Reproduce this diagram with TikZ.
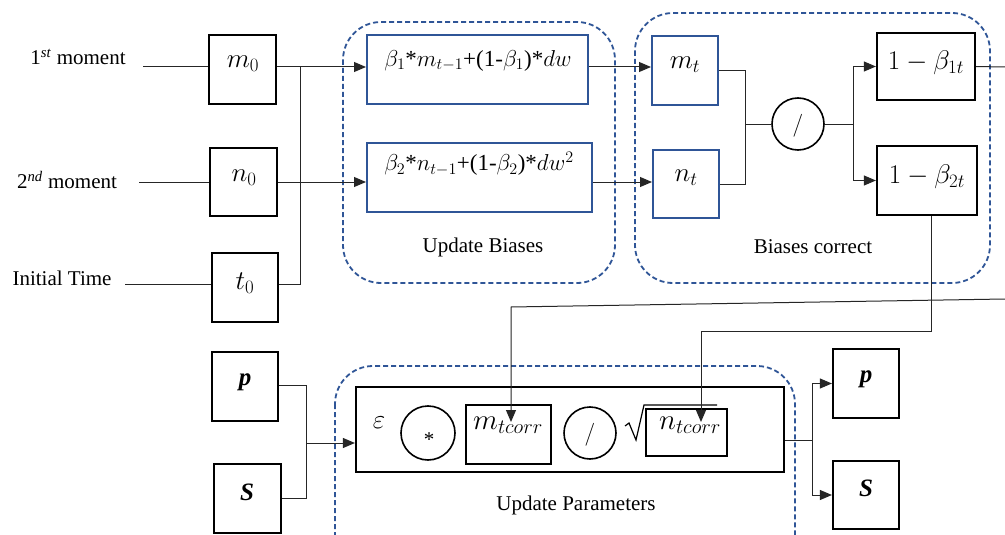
\RequirePackage{fix-cm}
\documentclass[tikz,border=0pt]{standalone}
\usepackage{fontspec}
\setmainfont{Liberation Serif}
\usetikzlibrary{arrows.meta}
\definecolor{myblue}{RGB}{47,85,151}
\tikzset{
  thin line/.style={line width=1pt, draw=black!85},
  arr/.style={thin line, -{Triangle[length=12pt,width=10pt]}},
  bbox/.style={draw=black, line width=2.2pt, inner sep=0pt, minimum width=#1},
  blbox/.style={draw=myblue, line width=2pt, inner sep=0pt, minimum width=#1},
  circ/.style={draw=black, line width=1.6pt, circle, inner sep=0pt, minimum size=#1},
  group/.style={draw=myblue, line width=1.8pt, dash pattern=on 5pt off 3pt, rounded corners=38pt},
  txt/.style={font=\fontsize{21}{25}\selectfont, inner sep=0pt},
  mtxt/.style={font=\fontsize{23}{27}\selectfont, inner sep=0pt},
  stxt/.style={font=\fontsize{27}{31}\selectfont, inner sep=0pt},
  btxt/.style={font=\fontsize{25}{29}\selectfont\bfseries\itshape, inner sep=0pt},
  ctxt/.style={font=\fontsize{29}{33}\selectfont, inner sep=0pt},
}
\begin{document}
\begin{tikzpicture}[x=1pt,y=-1pt]
\clip (0,0) rectangle (1005,535);
\fill[white] (0,0) rectangle (1005,535);

% groups
\draw[group] (343,22) rectangle (615,283);
\draw[group] (635,13) rectangle (990,283);
\draw[group] (335,366) rectangle (795,580);

% input boxes
\node[bbox=67pt, minimum height=69pt] (m0) at (242.5,69.5) {};
\node[bbox=67pt, minimum height=68pt] (n0) at (243.5,182) {};
\node[bbox=66pt, minimum height=69pt] (t0) at (245,287.5) {};
\node[bbox=66pt, minimum height=69pt] (p1) at (245,386.5) {};
\node[bbox=67pt, minimum height=69pt] (s1) at (247.5,498.5) {};

\node[stxt] (lm0) at (243,64) {$m_0$};
\node[stxt] (ln0) at (244,178) {$n_0$};
\node[stxt] (lt0) at (245,283) {$t_0$};
\node[btxt] (lp1) at (245,382) {p};
\node[btxt] (ls1) at (247,492) {S};

% input labels
\node[txt] (l1) at (78,57) {1\textsuperscript{\textit{st}} moment};
\node[txt] (l2) at (67,180) {2\textsuperscript{\textit{nd}} moment};
\node[txt] (l3) at (62,278) {Initial Time};

% update biases boxes
\node[blbox=221pt, minimum height=69pt] (bu1) at (477.5,69.5) {};
\node[blbox=225pt, minimum height=69pt] (bu2) at (479.5,177.5) {};
\node[mtxt] (lbu1) at (478,61) {$\beta_1$*$m_{t-1}$+(1-$\beta_1$)*$dw$};
\node[mtxt] (lbu2) at (479,164) {$\beta_2$*$n_{t-1}$+(1-$\beta_2$)*$dw^2$};
\node[txt] (gl1) at (483,247) {Update Biases};

% biases correct
\node[blbox=66pt, minimum height=69pt] (mt) at (685,70.5) {};
\node[blbox=66pt, minimum height=68pt] (nt) at (686,184) {};
\node[stxt] (lmt) at (685,65) {$m_t$};
\node[stxt] (lnt) at (686,178) {$n_t$};
\node[circ=52pt] (div1) at (798,124) {};
\node[mtxt] (ldiv1) at (798,126) {$/$};
\node[bbox=98pt, minimum height=67pt] (b1t) at (926,66.5) {};
\node[bbox=100pt, minimum height=69pt] (b2t) at (927,180.5) {};
\node[stxt] (lb1t) at (926,63) {$1-\beta_{1t}$};
\node[stxt] (lb2t) at (927,177) {$1-\beta_{2t}$};
\node[txt] (gl2) at (813,247) {Biases correct};

% update parameters
\node[bbox=428pt, minimum height=85pt] (big) at (570,429.5) {};
\node[stxt] (leps) at (379,423) {$\varepsilon$};
\node[circ=54pt] (mul) at (428,433) {};
\node[txt] (lmul) at (429,440) {*};
\node[bbox=85pt, minimum height=59pt] (mtc) at (508.5,434.5) {};
\node[ctxt] (lmtc) at (508,425) {$m_{tcorr}$};
\node[circ=52pt] (div2) at (590,433) {};
\node[mtxt] (ldiv2) at (590,435) {$/$};
\node[bbox=81pt, minimum height=47pt] (ntc) at (686.5,432.5) {};
\node[ctxt] (lntc) at (690,425) {$n_{tcorr}$};
\draw[line width=1.2pt] (625,426) -- (629,423) -- (636,440) -- (644,405) -- (717,405);
\node[txt] (gl3) at (576,505) {Update Parameters};

% outputs
\node[bbox=66pt, minimum height=69pt] (p2) at (866,383.5) {};
\node[bbox=66pt, minimum height=68pt] (s2) at (866,495) {};
\node[btxt] (lp2) at (866,379) {p};
\node[btxt] (ls2) at (866,488) {S};

% coordinates
\coordinate (i1) at (143,67);
\coordinate (i2) at (139,182);
\coordinate (i3) at (125,284);
\coordinate (j1) at (300,67);
\coordinate (j2) at (300,284);
\coordinate (k) at (745,124);
\coordinate (k2) at (853,124);
\coordinate (e1) at (1005,67);
\coordinate (e2) at (1005,299);
\coordinate (r1) at (511,307);
\coordinate (r2) at (511,422);
\coordinate (q1) at (931,331);
\coordinate (q2) at (701,331);
\coordinate (q3) at (701,422);
\coordinate (ps) at (306,443);
\coordinate (o1) at (812,440);

% connectors
\draw[thin line] (i1) -- (i1 -| m0.west);
\draw[thin line] (i2) -- (n0.west);
\draw[thin line] (i3) -- (i3 -| t0.west);
\draw[thin line] (j1 -| m0.east) -- (j1);
\draw[thin line] (j1) -- (j2) -- (j2 -| t0.east);
\draw[arr] (j1) -- (j1 -| bu1.west);
\draw[arr] (n0.east) -- (n0.east -| bu2.west);
\draw[arr] (j1 -| bu1.east) -- (j1 -| mt.west);
\draw[arr] (n0.east -| bu2.east) -- (n0.east -| nt.west);
\draw[thin line] (mt.east) -| (k);
\draw[thin line] (nt.east) -| (k);
\draw[thin line] (k) -- (div1.west);
\draw[thin line] (div1.east) -- (k2);
\draw[arr] (k2) |- (b1t.west);
\draw[arr] (k2) |- (b2t.west);
\draw[thin line] (b1t.east) -- (e1);
\draw[arr] (e2) -- (r1) -- (r2);
\draw[arr] (b2t.south -| q1) -- (q1) -- (q2) -- (q3);
\draw[thin line] (p1.east |- 0,385) -- (306,385) -- (306,498) -- (s1.east |- 0,498);
\draw[arr] (ps) -- (ps -| big.west);
\draw[thin line] (big.east |- o1) -- (o1);
\draw[arr] (o1) |- (p2.west);
\draw[arr] (o1) |- (s2.west);
\end{tikzpicture}
\end{document}
